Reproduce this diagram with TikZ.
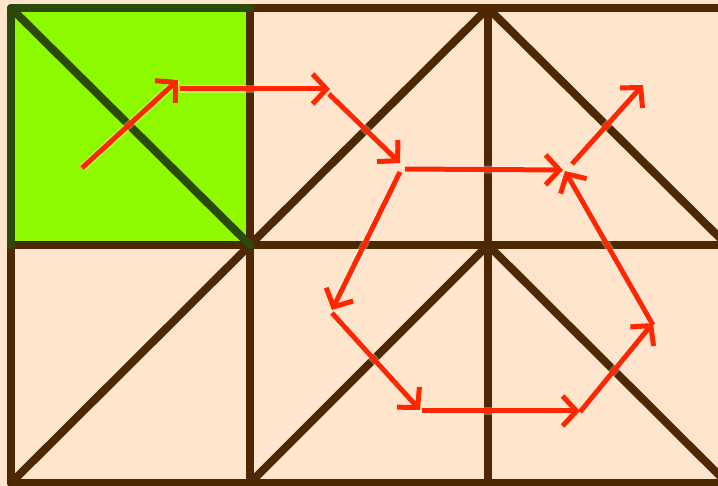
\documentclass[tikz,border=0pt]{standalone}
\usetikzlibrary{arrows.meta}
\definecolor{peach}{HTML}{FFE5CC}
\definecolor{lime}{HTML}{8EFA00}
\definecolor{dgreen}{HTML}{2B4A0A}
\definecolor{brown}{HTML}{4E2800}
\definecolor{redarrow}{HTML}{FF2600}
\tikzset{
  gridline/.style={draw=brown, line width=8pt, line cap=round, line join=round},
  greenline/.style={draw=dgreen, line width=8pt, line cap=round, line join=round},
  halo/.style={draw=white, opacity=0.3, line width=8pt},
  movearrow/.style={draw=redarrow, line width=5pt,
    -{Straight Barb[length=14pt,width=30pt,line width=5pt]}},
}
\begin{document}
\begin{tikzpicture}[x=1pt,y=-1pt]
\useasboundingbox (0,0) rectangle (718,486);
\clip (0,0) rectangle (718,486);
\fill[peach] (0,0) rectangle (718,486);
% grid corners
\coordinate (g00) at (11,8);
\coordinate (g10) at (250,8);
\coordinate (g20) at (488,8);
\coordinate (g30) at (727,8);
\coordinate (g01) at (11,245);
\coordinate (g11) at (250,245);
\coordinate (g21) at (488,245);
\coordinate (g31) at (727,245);
\coordinate (g02) at (11,483);
\coordinate (g12) at (250,483);
\coordinate (g22) at (488,483);
\coordinate (g32) at (727,483);
% green cell
\fill[lime] (g00) rectangle (g11);
% brown grid
\draw[gridline] (g10) -- (g30);
\draw[gridline] (g01) -- (g31);
\draw[gridline] (g02) -- (g32);
\draw[gridline] (g01) -- (g02);
\draw[gridline] (g10) -- (g12);
\draw[gridline] (g20) -- (g22);
\draw[gridline] (g11) -- (g20);
\draw[gridline] (g20) -- (g31);
\draw[gridline] (g02) -- (g11);
\draw[gridline] (g12) -- (g21);
\draw[gridline] (g21) -- (g32);
% green borders
\draw[greenline] (g01) -- (g00) -- (g10);
\draw[greenline] (g00) -- (g11);
% arrow points
\coordinate (a1s) at (82,168);  \coordinate (a1e) at (178,80);
\coordinate (a2s) at (180,89);  \coordinate (a2e) at (330,89);
\coordinate (a3s) at (329,94);  \coordinate (a3e) at (400,163);
\coordinate (a4s) at (405,169); \coordinate (a4e) at (563,170);
\coordinate (a5s) at (572,164); \coordinate (a5e) at (643,85);
\coordinate (a6s) at (400,172); \coordinate (a6e) at (332,310);
\coordinate (a7s) at (332,313); \coordinate (a7e) at (420,410);
\coordinate (a8s) at (422,411); \coordinate (a8e) at (580,411);
\coordinate (a9s) at (580,412); \coordinate (a9e) at (653,323);
\coordinate (a10s) at (653,325); \coordinate (a10e) at (565,171);
\foreach \i in {1,...,10}{
  \draw[halo] (a\i s) -- (a\i e);
}
\foreach \i in {1,...,10}{
  \draw[movearrow] (a\i s) -- (a\i e);
}
\end{tikzpicture}
\end{document}
